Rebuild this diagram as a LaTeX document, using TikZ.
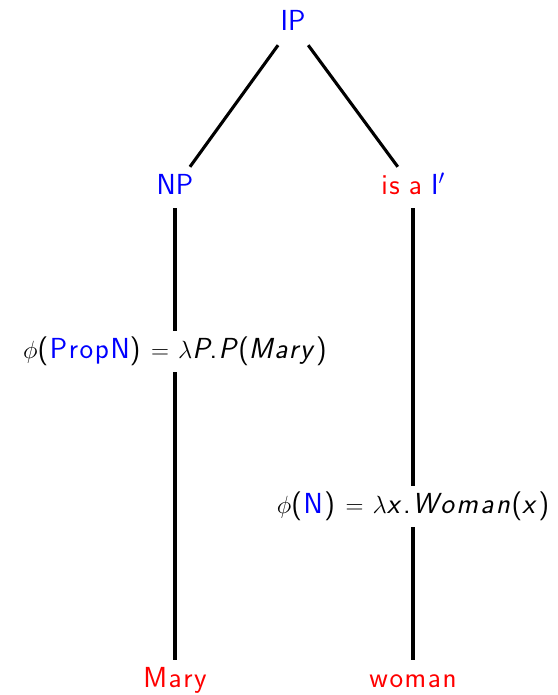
\documentclass[tikz,border=0pt]{standalone}
\renewcommand{\familydefault}{\sfdefault}
\newcommand{\lsp}{\kern1.6pt}
\newcommand{\wsp}{\kern2.4pt}
\begin{document}
\begin{tikzpicture}[x=1pt,y=-1pt,
  lbl/.style={font=\fontsize{29}{35}\selectfont, inner sep=7pt, text height=20pt, text depth=7pt, anchor=base},
  edge/.style={line width=3.1pt}]
\useasboundingbox (0,0) rectangle (557,695);
\thickmuskip=7mu plus 2mu
\node[lbl] (ip) at (293,31) {\textcolor{blue}{IP}};
\node[lbl] (np) at (175,194) {\textcolor{blue}{NP}};
\node[lbl] (ib) at (413,194) {\textcolor{red}{i\lsp s a} \textcolor{blue}{I$'$}};
\node[lbl] (pn) at (175,358) {$\phi$(\lsp\textcolor{blue}{P\lsp r\lsp o\lsp p\lsp N})\lsp\ $=$ $\lambda$\textit{P}.\kern1.5pt\textit{P}(\textit{M\lsp a\lsp r\lsp y}\lsp)};
\node[lbl] (nn) at (413,513) {$\phi$(\lsp\textcolor{blue}{N}\lsp)\lsp\ $=$ $\lambda$\textit{x}\lsp.\lsp\textit{W\wsp o\wsp m\wsp a\wsp n}\lsp(\textit{x}\lsp)};
\node[lbl] (mary) at (175,687) {\textcolor{red}{M\lsp a\lsp r\lsp y}};
\node[lbl] (woman) at (413,687) {\textcolor{red}{w\lsp o\lsp m\lsp a\lsp n}};
\draw[edge] (ip) -- (np);
\draw[edge] (ip) -- (ib);
\draw[edge] (np) -- (pn);
\draw[edge] (pn) -- (mary);
\draw[edge] (ib) -- (nn);
\draw[edge] (nn) -- (woman);
\end{tikzpicture}
\end{document}
